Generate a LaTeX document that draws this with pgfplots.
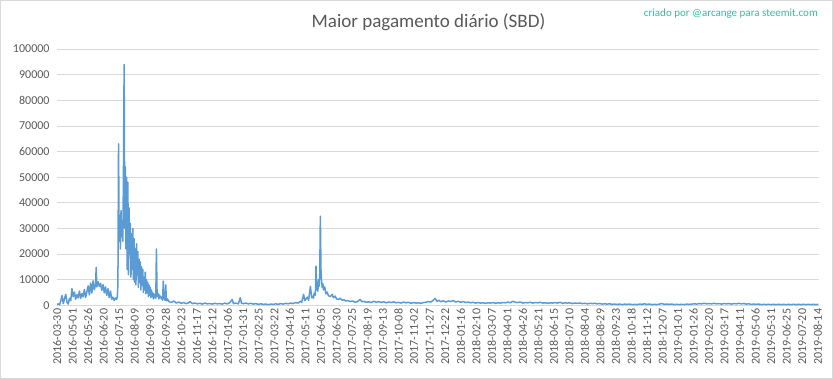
\documentclass[border=0pt]{standalone}
\usepackage{pgfplots}
\pgfplotsset{compat=1.18}
\usepackage{fontspec}
\setmainfont{Carlito}
\definecolor{xlblue}{HTML}{5B9BD5}
\definecolor{xlgrid}{HTML}{D9D9D9}
\definecolor{xltext}{HTML}{595959}
\definecolor{wm}{RGB}{38,196,160}
\begin{document}
\begin{tikzpicture}
\draw[color=xlgrid, line width=0.8pt] (-56.6pt,-72.6pt) rectangle (774.6pt,304.6pt);
\begin{axis}[
  at={(0,0)}, anchor=south west,
  scale only axis, width=761pt, height=256pt,
  xmin=0, xmax=1227, ymin=0, ymax=100000,
  axis line style={draw=none},
  major tick length=0pt,
  ymajorgrids, grid style={xlgrid, line width=0.8pt},
  ytick={0,10000,20000,30000,40000,50000,60000,70000,80000,90000,100000},
  yticklabels={0,10000,20000,30000,40000,50000,60000,70000,80000,90000,100000},
  scaled y ticks=false,
  yticklabel style={font=\fontsize{12}{14}\selectfont, text=xltext, xshift=-4pt},
  xtick={0,25,...,1225},
  xticklabels={2016-03-30,2016-05-01,2016-05-26,2016-06-20,2016-07-15,2016-08-09,2016-09-03,2016-09-28,2016-10-23,2016-11-17,2016-12-12,2017-01-06,2017-01-31,2017-02-25,2017-03-22,2017-04-16,2017-05-11,2017-06-05,2017-06-30,2017-07-25,2017-08-19,2017-09-13,2017-10-08,2017-11-02,2017-11-27,2017-12-22,2018-01-16,2018-02-10,2018-03-07,2018-04-01,2018-04-26,2018-05-21,2018-06-15,2018-07-10,2018-08-04,2018-08-29,2018-09-23,2018-10-18,2018-11-12,2018-12-07,2019-01-01,2019-01-26,2019-02-20,2019-03-17,2019-04-11,2019-05-06,2019-05-31,2019-06-25,2019-07-20,2019-08-14},
  xticklabel style={font=\fontsize{12}{14}\selectfont, text=xltext, rotate=90, anchor=east},
  clip=false,
]
\addplot[color=xlblue, line width=1.5pt, line join=round] coordinates {
(0,300)(2,600)(4,200)(6,1800)(8,3800)(10,700)(12,2600)(14,4300)(16,1200)(18,500)
(20,2800)(22,1800)(24,6500)(26,3400)(28,5200)(30,2400)(32,4200)(34,2900)(36,5600)(38,2700)
(40,4600)(42,3300)(44,6200)(46,3100)(48,5300)(50,7600)(52,4100)(54,8700)(56,4800)(58,9600)
(60,6100)(62,8200)(63,14800)(64,7200)(66,9200)(68,7400)(70,8600)(72,5900)(74,8100)(76,4900)
(78,7200)(80,3900)(82,6500)(84,3000)(86,5600)(88,2400)(90,3200)(92,1900)(94,2900)(96,2300)
(97,3500)(98,8000)(99,63000)(100,25000)(101,35000)(102,22000)(103,37000)(104,27000)(105,30000)(106,25000)
(107,55000)(108,94000)(109,30000)(110,54000)(111,22000)(112,50000)(113,14000)(114,48000)(115,12000)(116,38000)
(117,20000)(118,32000)(119,11000)(120,28000)(121,14000)(122,30000)(123,10000)(124,26000)(125,9000)(126,22000)
(127,8000)(128,24000)(129,12000)(130,21000)(131,7000)(132,18000)(133,9000)(134,17000)(135,6000)(136,15000)
(137,8000)(138,14000)(139,5000)(140,11000)(141,6000)(142,13000)(143,4500)(144,10000)(145,5000)(146,9000)
(147,3500)(148,8000)(149,4000)(150,7000)(151,3000)(152,6000)(153,3500)(154,5000)(155,2500)(156,4500)
(157,3000)(158,4000)(159,2800)(160,22000)(161,5000)(162,3500)(163,4500)(164,2500)(165,4000)(166,3000)
(167,3500)(168,2500)(169,3000)(170,2000)(171,9500)(172,3000)(173,2500)(174,2000)(175,8000)(176,2000)
(177,1800)(178,2500)(180,1500)(184,1100)(188,1700)(192,900)(196,1300)(200,800)(204,1100)(208,700)
(212,1000)(214,1500)(218,700)(222,900)(226,600)(230,800)(234,500)(238,900)(242,600)(246,700)
(250,500)(254,800)(258,600)(262,700)(266,500)(270,900)(274,600)(278,1000)(282,2300)(284,700)
(288,900)(292,600)(295,3000)(297,800)(300,700)(304,900)(308,600)(312,800)(316,500)(320,700)
(324,400)(328,600)(332,400)(336,500)(340,300)(344,500)(348,400)(352,600)(356,400)(360,700)
(364,500)(368,800)(372,600)(376,900)(380,700)(384,1100)(388,900)(392,1600)(394,1200)(397,4300)
(399,1800)(401,2600)(403,3200)(405,2000)(408,7400)(410,3000)(411,3600)(413,2800)(414,4800)(416,4000)
(417,15300)(418,6000)(419,9000)(420,5500)(421,10000)(422,7500)(423,12000)(424,34800)(425,14000)(426,9000)
(427,7000)(428,8500)(429,6000)(431,7200)(433,4500)(435,5200)(437,3800)(440,3400)(443,4300)(445,3000)
(448,3600)(450,2500)(453,2300)(456,2800)(459,2000)(462,2200)(465,1700)(468,1900)(472,1500)(476,1700)
(480,1200)(484,1500)(488,2300)(491,1400)(494,1600)(498,1200)(502,1400)(506,1100)(510,1600)(514,1200)
(518,1500)(522,1100)(526,1400)(530,1000)(534,1300)(538,1100)(542,1400)(546,1000)(550,1200)(554,900)
(558,1300)(562,1000)(566,1200)(570,800)(574,1100)(578,900)(582,1000)(586,800)(590,1100)(594,1200)
(598,1500)(602,1300)(606,2000)(609,2700)(612,1500)(615,2000)(618,1400)(622,1800)(626,1300)(630,1700)
(634,1500)(638,1900)(642,1300)(646,1600)(650,1200)(654,1500)(658,1100)(662,1300)(666,1000)(670,1200)
(674,900)(678,1100)(682,900)(686,1000)(690,800)(694,1000)(698,900)(702,1100)(706,800)(710,1000)
(714,900)(718,1100)(722,1000)(726,1300)(730,1000)(734,1600)(738,1200)(742,1100)(746,1300)(750,900)
(754,1100)(758,1000)(762,1200)(766,900)(770,1100)(774,1000)(778,1200)(782,900)(786,1000)(790,800)
(794,1000)(798,900)(802,1100)(806,900)(810,1200)(814,800)(818,1000)(822,900)(826,1000)(830,700)
(834,900)(838,800)(842,900)(846,700)(850,800)(854,600)(858,800)(862,700)(866,800)(870,600)
(874,700)(878,500)(882,600)(886,500)(890,600)(894,400)(898,500)(902,400)(906,500)(910,300)
(914,500)(918,400)(922,500)(926,300)(930,400)(934,300)(938,500)(942,400)(946,600)(950,400)
(954,500)(958,300)(962,400)(966,300)(970,500)(974,700)(978,400)(982,500)(986,400)(990,500)
(994,300)(998,400)(1002,300)(1006,400)(1010,300)(1014,500)(1018,400)(1022,500)(1026,600)(1030,500)
(1034,700)(1038,600)(1042,800)(1046,600)(1050,700)(1054,600)(1058,800)(1062,600)(1066,700)(1070,500)
(1074,700)(1078,600)(1082,700)(1086,500)(1090,700)(1094,600)(1098,800)(1102,600)(1106,700)(1110,500)
(1114,600)(1118,400)(1122,500)(1126,400)(1130,500)(1134,300)(1138,400)(1142,300)(1146,400)(1150,300)
(1154,400)(1158,300)(1162,400)(1166,300)(1170,400)(1174,300)(1178,400)(1182,300)(1186,400)(1190,300)
(1194,400)(1198,300)(1202,400)(1206,300)(1210,400)(1214,300)(1218,400)(1222,300)(1226,400)
};
\end{axis}
\node[text=xltext, font=\fontsize{19}{22}\selectfont] at (371pt,283pt) {Maior pagamento diário (SBD)};
\node[text=wm, font=\fontsize{11}{13}\selectfont] at (673pt,291pt) {criado por @arcange para steemit.com};
\end{tikzpicture}
\end{document}
